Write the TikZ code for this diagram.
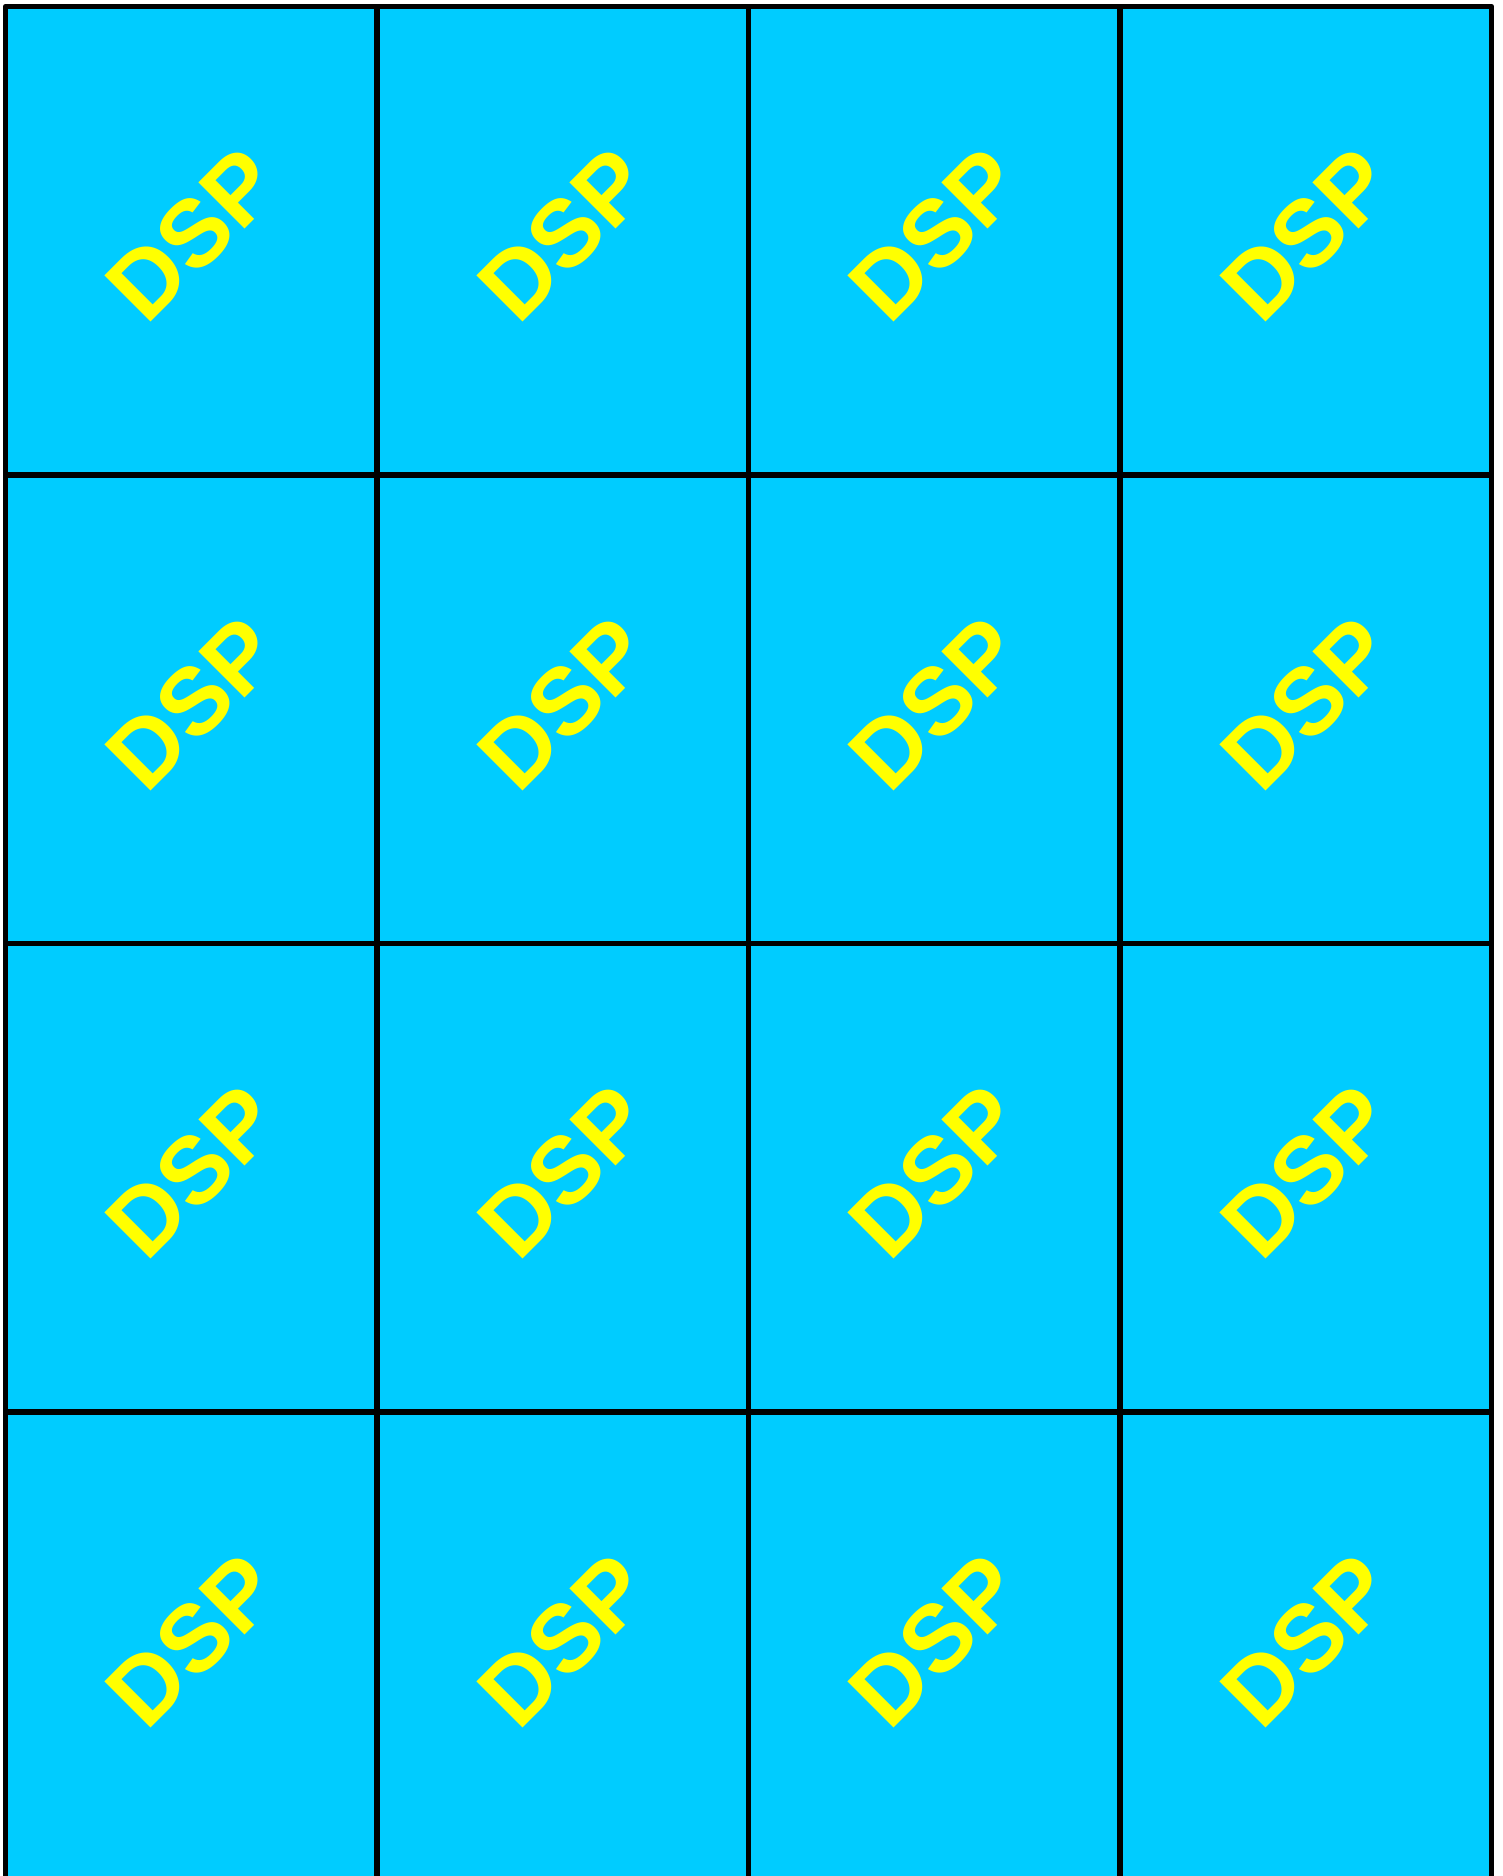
\documentclass[tikz,border=0pt]{standalone}
\usepackage{fontspec}
\setsansfont{Liberation Sans}
\definecolor{dspcyan}{HTML}{00CCFF}
\definecolor{dspyellow}{HTML}{FFFF00}
\tikzset{
  every picture/.style={line width=3.1pt, line join=round},
  tile/.style={draw=black, fill=dspcyan},
  dsplabel/.style={text=dspyellow, font=\sffamily\bfseries\fontsize{54}{60}\selectfont, rotate=45, inner sep=0pt},
}

\begin{document}
\begin{tikzpicture}[x=1cm, y=1cm]
  \useasboundingbox (0,0) rectangle (30.06,-37.52);
  % 4x4 grid of DSP blocks, the last row runs off the bottom edge
  \foreach \r in {0,...,3} {
    \foreach \c in {0,...,3} {
      \draw[tile] ({0.11+7.43*\c},{-0.13-9.37*\r}) rectangle ++(7.43,-9.37);
      \node[dsplabel] (dsp-\r-\c) at ({0.11+7.43*\c+3.745},{-0.13-9.37*\r-4.685+0.12}) {DSP};
    }
  }
\end{tikzpicture}
\end{document}
